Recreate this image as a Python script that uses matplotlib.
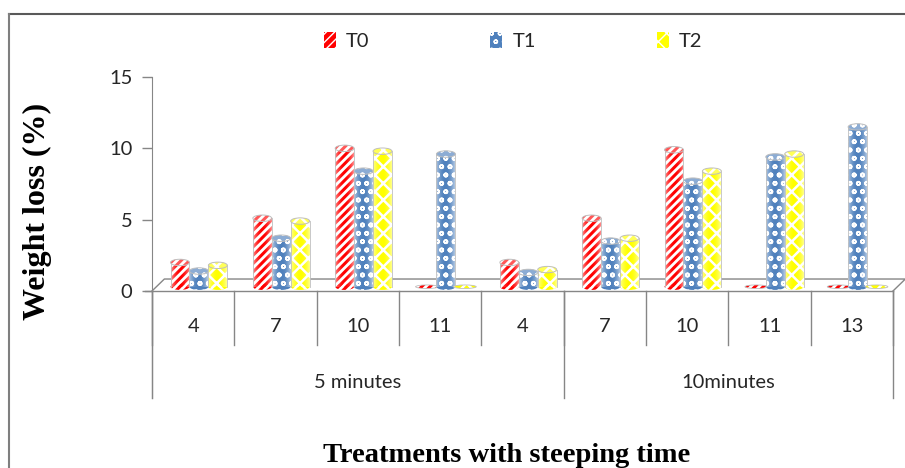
import numpy as np
import matplotlib
matplotlib.use("Agg")
import matplotlib.pyplot as plt
from matplotlib.patches import Rectangle, Ellipse, Patch
from matplotlib.lines import Line2D

# data
categories = ["4", "7", "10", "11", "4", "7", "10", "11", "13"]
groups = ["5 minutes", "10minutes"]
group_sizes = [5, 4]
series = ["T0", "T1", "T2"]
T0 = [1.7, 4.8, 9.7, 0, 1.7, 4.8, 9.6, 0, 0]
T1 = [1.1, 3.4, 8.1, 9.3, 1.0, 3.2, 7.4, 9.1, 11.2]
T2 = [1.5, 4.6, 9.5, 0, 1.2, 3.4, 8.1, 9.3, 0]
values = [T0, T1, T2]

# look of each series: face, hatch, hatch colour
styles = [("white", "////", "#FF0000"),
          ("#4F81BD", "oo", "white"),
          ("#FFFF00", "xx", "white")]

plt.rcParams['font.family'] = ['Lato', 'DejaVu Sans']
grey = "#868686"

fig = plt.figure(figsize=(9.05, 4.68), dpi=100, facecolor="white")
ax = fig.add_axes([152/905, 70/468, 741/905, 321/468])
ax.set_xlim(0, len(categories))
ax.set_ylim(-7.5, 15)
ax.set_yticks([0, 5, 10, 15])
ax.set_xticks([])
for s in ["top", "right", "bottom"]:
    ax.spines[s].set_visible(False)
ax.spines["left"].set_color(grey)
ax.tick_params(axis="y", length=7, color=grey, width=1, labelsize=14.5,
               labelcolor="#262626", pad=7)

n = len(categories)
# floor of the 3d box
ddx, ddy = 0.15, 0.84
ax.plot([0, n], [0, 0], color=grey, lw=1, clip_on=False)
ax.plot([-0.09, 0], [0, 0], color=grey, lw=1, clip_on=False)
ax.plot([0, ddx, n + ddx, n], [0, ddy, ddy, 0], color=grey, lw=1, clip_on=False)

# category table under the axis
for i in range(n + 1):
    ax.plot([i, i], [0, -3.8], color=grey, lw=1, clip_on=False)
edges = np.cumsum([0] + group_sizes)
for e in edges:
    ax.plot([e, e], [0, -7.5], color=grey, lw=1, clip_on=False)
for i, c in enumerate(categories):
    ax.text(i + 0.5, -2.5, c, ha="center", va="center", fontsize=14.5, color="#262626")
for g, a, b in zip(groups, edges[:-1], edges[1:]):
    ax.text((a + b) / 2, -6.4, g, ha="center", va="center", fontsize=14.5, color="#262626")

# cylinders
w = 0.23
eh = 0.45
base = 0.3
shade = np.linspace(-1, 1, 40)
overlay = np.ones((1, 40, 4))
overlay[..., 3] = 0.55 * np.abs(shade) ** 2

def hatched(patch_cls, *args, face, hatch, hcol, z, **kw):
    p1 = patch_cls(*args, facecolor=face, edgecolor="none", zorder=z, **kw)
    p2 = patch_cls(*args, fill=False, hatch=hatch, edgecolor=hcol, lw=0, zorder=z + 0.01, **kw)
    if hasattr(p2, "set_hatch_linewidth"):
        p2.set_hatch_linewidth({"////": 2.2, "oo": 1.2, "xx": 1.8}[hatch])
    ax.add_patch(p1)
    ax.add_patch(p2)

for i in range(n):
    for k, vals in enumerate(values):
        face, hatch, hcol = styles[k]
        xc = i + 0.57 + (k - 1) * w
        v = vals[i]
        z = 3 + k * 0.1
        if v <= 0:
            hatched(Ellipse, (xc, base), w * 1.2, eh * 0.55, face=face, hatch=hatch, hcol=hcol, z=z)
            ax.add_patch(Ellipse((xc, base), w * 1.2, eh * 0.55, fill=False,
                                 edgecolor="#BFBFBF", lw=0.6, zorder=z + 0.05))
            continue
        hatched(Ellipse, (xc, base), w, eh, face=face, hatch=hatch, hcol=hcol, z=z)
        hatched(Rectangle, (xc - w / 2, base), w, v, face=face, hatch=hatch, hcol=hcol, z=z)
        ax.imshow(overlay, extent=[xc - w / 2, xc + w / 2, base, base + v],
                  aspect="auto", zorder=z + 0.02, interpolation="bilinear")
        ax.plot([xc - w / 2, xc - w / 2], [base, base + v], color="#BFBFBF", lw=0.6, zorder=z + 0.03)
        ax.plot([xc + w / 2, xc + w / 2], [base, base + v], color="#BFBFBF", lw=0.6, zorder=z + 0.03)
        hatched(Ellipse, (xc, base + v), w, eh, face=face, hatch=hatch, hcol=hcol, z=z + 0.04)
        ax.add_patch(Ellipse((xc, base + v), w, eh, facecolor="white", alpha=0.35,
                             edgecolor="none", zorder=z + 0.05))
        ax.add_patch(Ellipse((xc, base + v), w, eh, fill=False,
                             edgecolor="#BFBFBF", lw=0.7, zorder=z + 0.06))

ax.set_xlim(0, n)
ax.set_ylim(-7.5, 15)

# legend
handles = []
for k, name in enumerate(series):
    face, hatch, hcol = styles[k]
    handles.append(Patch(facecolor=face if face != "white" else hcol,
                         hatch=hatch, edgecolor=hcol if face != "white" else "white",
                         lw=0, label=name))
fig.legend(handles=handles, loc="center", bbox_to_anchor=(0.567, 0.912), ncol=3,
           frameon=False, fontsize=14.5, handlelength=0.6, handleheight=0.8,
           handletextpad=0.5, columnspacing=6.0, labelcolor="#262626")

serif = ["Liberation Serif", "DejaVu Serif"]
fig.text(37/905, 1 - 211/468, "Weight loss (%)", family=serif, fontweight="bold",
         fontsize=23, rotation=90, ha="center", va="center")
fig.text(507/905, 1 - 462/468, "Treatments with steeping time", family=serif,
         fontweight="bold", fontsize=20.5, ha="center", va="baseline")

# outer frame
fig.add_artist(Line2D([9/905, 1], [1 - 14/468, 1 - 14/468], color="#595959", lw=1.5))
fig.add_artist(Line2D([9/905, 9/905], [0, 1 - 14/468], color="#7F7F7F", lw=1.5))

fig.savefig("out.png", dpi=100, facecolor="white")
